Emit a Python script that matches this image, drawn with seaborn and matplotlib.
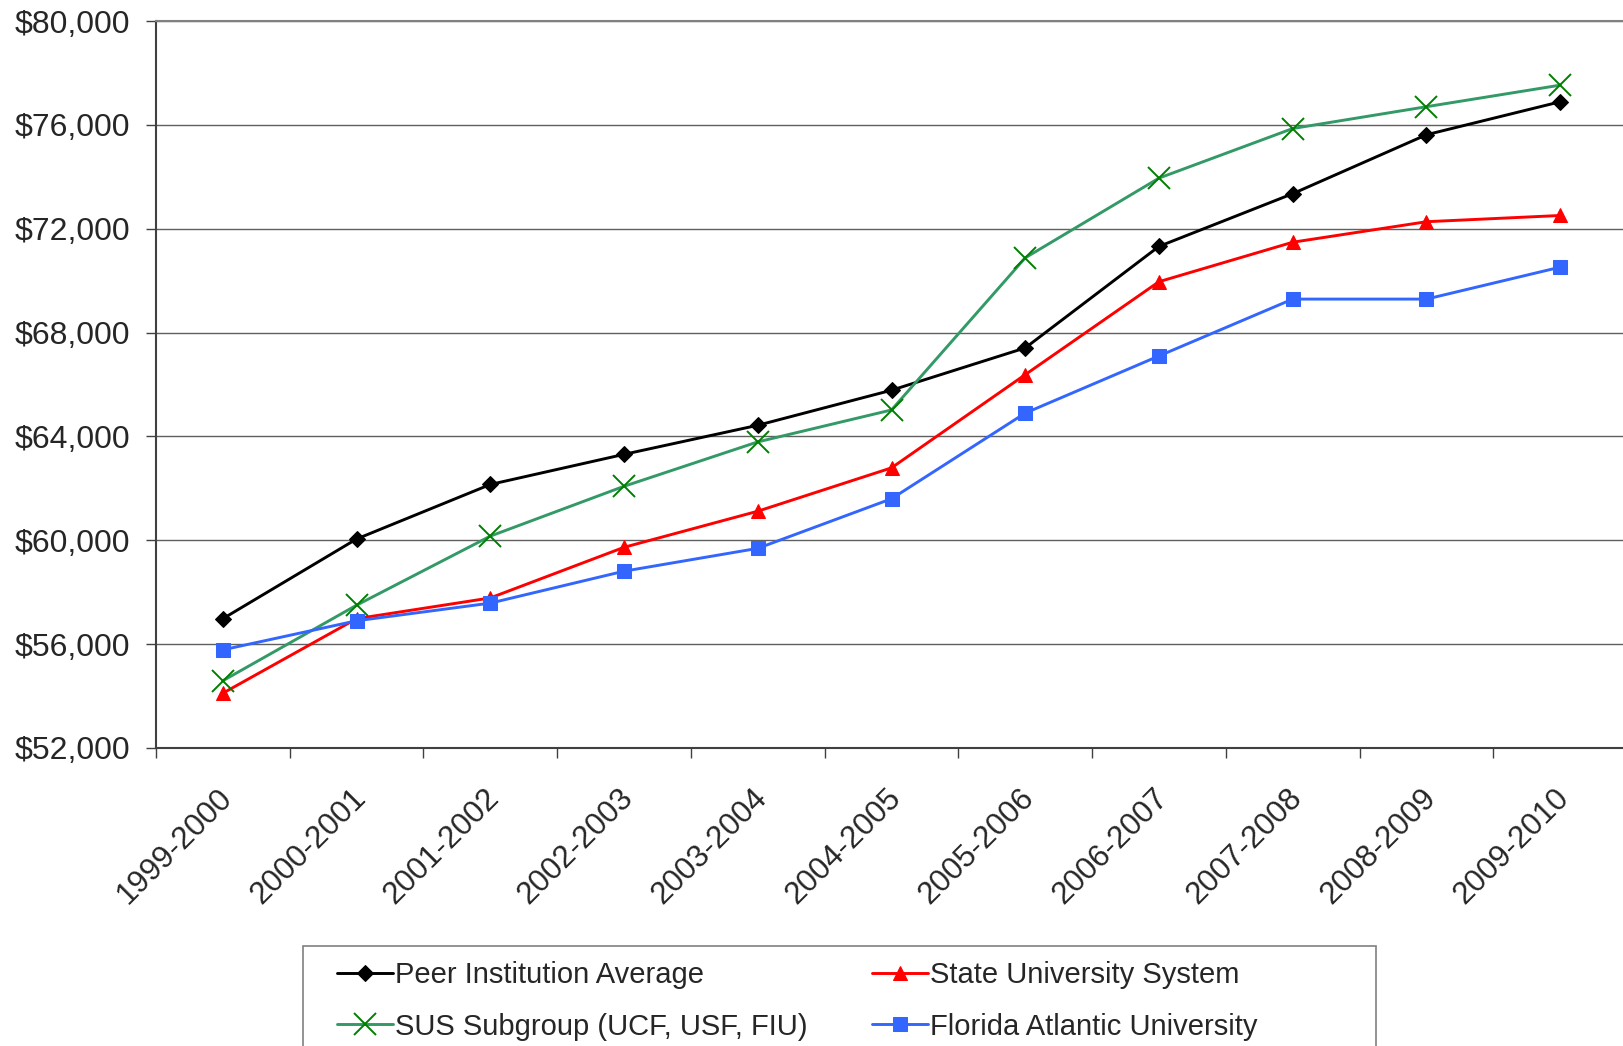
import numpy as np
import pandas as pd
import seaborn as sns
import matplotlib.pyplot as plt
from matplotlib.patches import Rectangle
from matplotlib.ticker import FuncFormatter, FixedLocator
from matplotlib.transforms import ScaledTranslation

# Данные
years = ["1999-2000", "2000-2001", "2001-2002", "2002-2003", "2003-2004", "2004-2005",
         "2005-2006", "2006-2007", "2007-2008", "2008-2009", "2009-2010"]
peer_avg = [56980, 60050, 62150, 63310, 64430, 65780, 67410, 71320, 73350, 75620, 76890]
state_sys = [54110, 56980, 57780, 59730, 61120, 62790, 66380, 69960, 71480, 72270, 72510]
sus_sub = [54590, 57500, 60160, 62080, 63790, 65020, 70880, 73950, 75860, 76700, 77530]
fau = [55780, 56900, 57580, 58810, 59690, 61600, 64900, 67100, 69290, 69290, 70520]

y_ticks = [52000, 56000, 60000, 64000, 68000, 72000, 76000, 80000]

sns.set_theme(style="white")
plt.rcParams['font.family'] = ['Liberation Sans', 'DejaVu Sans']

fig = plt.figure(figsize=(16.23, 10.46), dpi=100)
ax = fig.add_axes([0.0961, 0.2849, 0.9064, 0.6950])

x = np.arange(len(years))
df = pd.DataFrame({"x": x, "peer": peer_avg, "state": state_sys, "sus": sus_sub, "fau": fau})

lw = 2.1
# серии в порядке Excel: последняя рисуется сверху
sns.lineplot(data=df, x="x", y="peer", ax=ax, color="black", lw=lw, marker="D",
             markersize=8, markeredgecolor="black", label="Peer Institution Average")
sns.lineplot(data=df, x="x", y="state", ax=ax, color="#FF0000", lw=lw, marker="^",
             markersize=10.5, markeredgecolor="#FF0000", label="State University System")
sns.lineplot(data=df, x="x", y="sus", ax=ax, color="#339966", lw=lw, marker="x",
             markersize=16, markeredgecolor="#008000", markeredgewidth=1.4,
             label="SUS Subgroup (UCF, USF, FIU)")
sns.lineplot(data=df, x="x", y="fau", ax=ax, color="#3366FF", lw=lw, marker="s",
             markersize=10.5, markeredgecolor="#3366FF", label="Florida Atlantic University")

ax.set_xlim(-0.5, len(years) - 0.5)
ax.set_ylim(52000, 80000)
ax.set_yticks(y_ticks)
ax.yaxis.set_major_formatter(FuncFormatter(lambda v, p: f"${v:,.0f}"))
ax.yaxis.grid(True, color="#606060", lw=1)
ax.set_axisbelow(True)

# подписи по центру категорий, засечки на границах
ax.set_xticks(x)
ax.set_xticklabels(years, rotation=45, ha="right", rotation_mode="anchor")
ax.xaxis.set_minor_locator(FixedLocator(np.arange(-0.5, len(years), 1.0)))
ax.tick_params(axis="x", which="major", length=0, pad=25, labelsize=22.5)
ax.tick_params(axis="x", which="minor", length=7, width=1, color="#404040", bottom=True)
ax.tick_params(axis="y", length=7, width=1, color="#404040", pad=11.5, labelsize=23, left=True)
shift = ScaledTranslation(-6 / 100, 0, fig.dpi_scale_trans)
for lab in ax.get_xticklabels():
    lab.set_transform(lab.get_transform() + shift)
ax.set_xlabel("")
ax.set_ylabel("")

for side in ["left", "bottom"]:
    ax.spines[side].set_color("#404040")
    ax.spines[side].set_linewidth(1.5)
ax.spines["top"].set_color("#808080")
ax.spines["top"].set_linewidth(1.5)
ax.spines["right"].set_visible(False)

handles, labels = ax.get_legend_handles_labels()
ax.get_legend().remove()
order = [0, 2, 1, 3]
fig.legend([handles[i] for i in order], [labels[i] for i in order],
           loc="upper left", bbox_to_anchor=(0.2077, 0.0808), ncol=2, frameon=False,
           fontsize=21, handlelength=1.92, handletextpad=0.07, columnspacing=2.2,
           labelspacing=0.79, borderpad=0, borderaxespad=0)
fig.patches.append(Rectangle((303 / 1623, -0.05), (1376 - 303) / 1623, 0.05 + 100 / 1046,
                             transform=fig.transFigure, fill=False,
                             edgecolor="#808080", lw=1.2))

fig.savefig("out.png", dpi=100)
